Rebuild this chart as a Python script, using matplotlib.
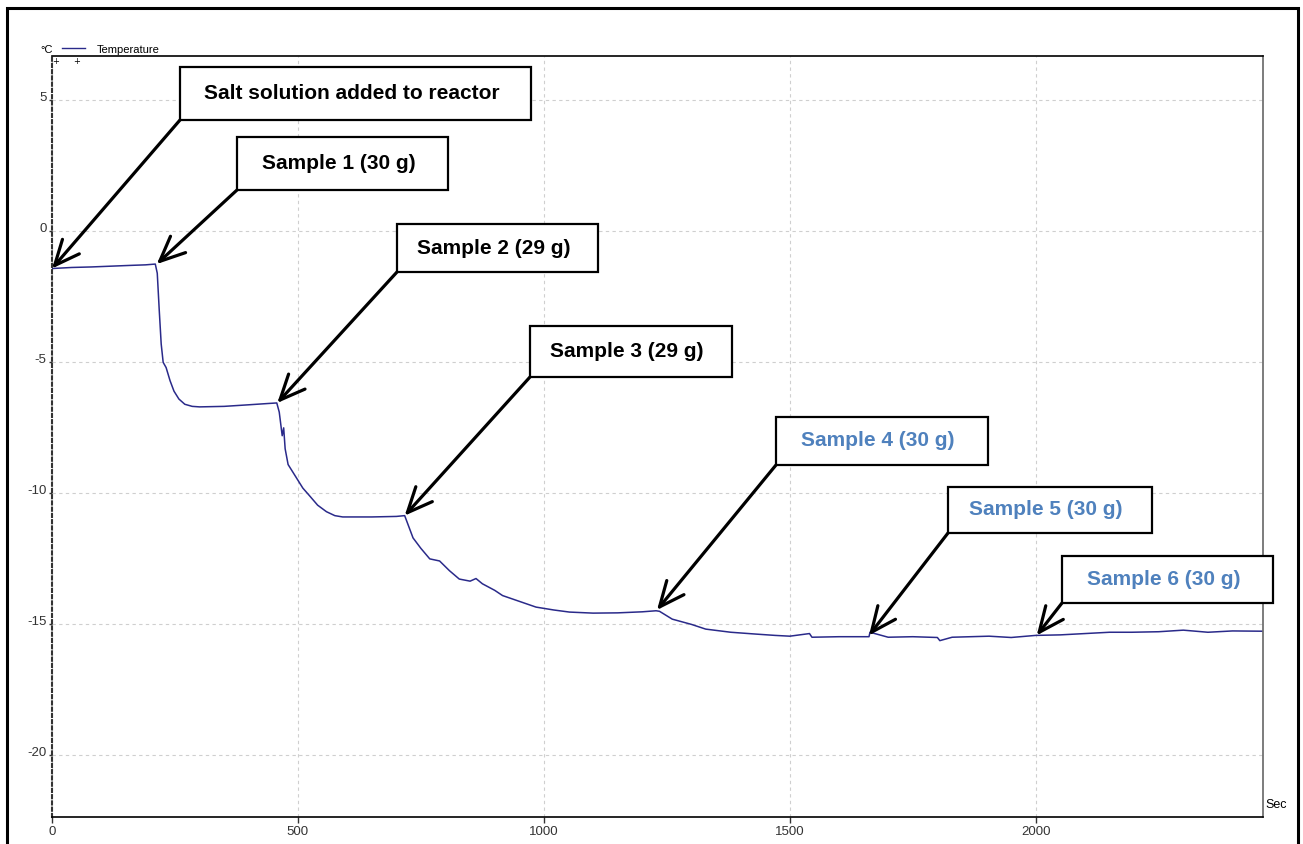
import numpy as np
import matplotlib
matplotlib.use("Agg")
import matplotlib.pyplot as plt
from matplotlib.patches import Rectangle

plt.rcParams['axes.unicode_minus'] = False

# temperature trace (sec, degC)
time_s = [0, 40, 80, 120, 160, 190, 210, 214, 218, 222, 226, 232, 240, 248, 258,
          270, 285, 300, 350, 400, 440, 457, 462, 468, 471, 474, 480, 490, 500,
          510, 524, 540, 558, 575, 591, 650, 700, 717, 722, 734, 750, 768, 788,
          808, 828, 850, 862, 875, 900, 916, 950, 984, 1020, 1052, 1100, 1150,
          1200, 1228, 1235, 1261, 1300, 1329, 1380, 1431, 1470, 1500, 1540, 1545,
          1600, 1661, 1663, 1700, 1750, 1800, 1805, 1830, 1905, 1950, 2000, 2050,
          2100, 2150, 2195, 2250, 2300, 2350, 2400, 2460]
temp_c = [-1.42, -1.38, -1.36, -1.33, -1.30, -1.28, -1.25, -1.6, -3.0, -4.3, -5.0,
          -5.2, -5.7, -6.1, -6.4, -6.6, -6.68, -6.70, -6.68, -6.62, -6.57, -6.55,
          -6.9, -7.8, -7.5, -8.3, -8.9, -9.2, -9.5, -9.8, -10.1, -10.45, -10.7,
          -10.85, -10.9, -10.9, -10.88, -10.85, -11.1, -11.7, -12.1, -12.5, -12.58,
          -12.95, -13.27, -13.35, -13.25, -13.45, -13.7, -13.9, -14.12, -14.34,
          -14.45, -14.53, -14.57, -14.56, -14.52, -14.48, -14.5, -14.8, -15.0,
          -15.18, -15.3, -15.37, -15.42, -15.45, -15.35, -15.49, -15.47, -15.47,
          -15.3, -15.49, -15.47, -15.5, -15.62, -15.49, -15.45, -15.5, -15.42,
          -15.4, -15.35, -15.3, -15.3, -15.28, -15.22, -15.3, -15.25, -15.26]

# sample additions (sec, degC) and their labels
event_time = [0, 213, 458, 717, 1230, 1661, 2002]
event_temp = [-1.42, -1.25, -6.55, -10.85, -14.45, -15.42, -15.42]
event_text = ['Salt solution added to reactor', 'Sample 1 (30 g)', 'Sample 2 (29 g)',
              'Sample 3 (29 g)', 'Sample 4 (30 g)', 'Sample 5 (30 g)', 'Sample 6 (30 g)']
event_color = ['black', 'black', 'black', 'black', '#4F81BD', '#4F81BD', '#4F81BD']

xticks = [0, 500, 1000, 1500, 2000]
xtick_labels = ['0', '500', '1000', '1500', '2000']
yticks = [5, 0, -5, -10, -15, -20]
ytick_labels = ['5', '0', '-5', '-10', '-15', '-20']

W, H = 1303, 845
def fx(px):
    return px / W
def fy(py):
    return 1 - py / H

# callout boxes in pixels: left, top, right, bottom
box_l = [180, 237, 397, 530, 776, 948, 1062]
box_t = [68, 138, 225, 327, 418, 488, 557]
box_r = [531, 448, 598, 732, 988, 1152, 1273]
box_b = [121, 191, 273, 378, 466, 534, 604]

small = ['Liberation Sans', 'DejaVu Sans']

fig = plt.figure(figsize=(W / 100, H / 100), dpi=100)
fig.patch.set_facecolor('white')
ax = fig.add_axes([fx(52), fy(818), fx(1263) - fx(52), fy(57) - fy(818)])

ax.plot(time_s, temp_c, color='#2a2a8a', linewidth=1.1, label='Temperature')

ax.set_xlim(0, 2462)
ax.set_ylim(-22.35, 6.69)
ax.set_xticks(xticks)
ax.set_xticklabels(xtick_labels, family=small, fontsize=9.5)
ax.set_yticks(yticks)
ax.set_yticklabels(ytick_labels, family=small, fontsize=9.5)
plt.setp(ax.get_yticklabels(), va='baseline')
ax.tick_params(axis='x', length=4, width=1, pad=2, direction='out', colors='#333333')
ax.tick_params(axis='y', length=2, width=1, pad=2, direction='out', colors='#333333')
ax.grid(True, color='#cfcfcf', linestyle=(0, (3, 3)), linewidth=0.8)

ax.spines['left'].set_linestyle((0, (1.5, 1.5)))
ax.spines['left'].set_color('#333333')
ax.spines['left'].set_linewidth(1.5)
ax.spines['top'].set_color('black')
ax.spines['top'].set_linewidth(1.2)
ax.spines['bottom'].set_color('black')
ax.spines['bottom'].set_linewidth(1.2)
ax.spines['right'].set_color('#666666')
ax.spines['right'].set_linewidth(1.2)

leg = ax.legend(loc='center left', bbox_to_anchor=(fx(62), fy(50)),
                bbox_transform=fig.transFigure, frameon=False, handlelength=2.1,
                handletextpad=1.0, borderpad=0, borderaxespad=0,
                prop={'family': small, 'size': 8})
leg.get_lines()[0].set_linewidth(1.0)
fig.text(fx(40), fy(50), '°C', family=small, fontsize=8, va='center', ha='left')
fig.text(fx(56), fy(61), '+', fontsize=6, va='center', ha='center')
fig.text(fx(77), fy(62), '+', fontsize=6, va='center', ha='center')
fig.text(fx(1265), fy(805), 'Sec', family=small, fontsize=9, va='center', ha='left')

for i in range(len(event_time)):
    ax.annotate('', xy=(event_time[i], event_temp[i]), xycoords='data',
                xytext=(fx(box_l[i]), fy(box_b[i])), textcoords='figure fraction',
                annotation_clip=False,
                arrowprops=dict(arrowstyle='->,head_length=1.8,head_width=0.8',
                                lw=2.3, color='black', shrinkA=0, shrinkB=0))
    fig.add_artist(Rectangle((fx(box_l[i]), fy(box_b[i])),
                             fx(box_r[i]) - fx(box_l[i]), fy(box_t[i]) - fy(box_b[i]),
                             transform=fig.transFigure, facecolor='white',
                             edgecolor='black', linewidth=1.6, zorder=5))
    cx = (box_l[i] + box_r[i]) / 2 - 4
    cy = (box_t[i] + box_b[i]) / 2 - 1
    fig.text(fx(cx), fy(cy), event_text[i], family=small,
             fontsize=15, fontweight='bold', color=event_color[i],
             ha='center', va='center', zorder=6)

# outer frame around the screenshot
fig.add_artist(Rectangle((fx(7), -0.05), fx(1298) - fx(7), fy(9) + 0.05,
                         transform=fig.transFigure, fill=False,
                         edgecolor='black', linewidth=2.2, zorder=7))

fig.savefig('out.png', dpi=100)
